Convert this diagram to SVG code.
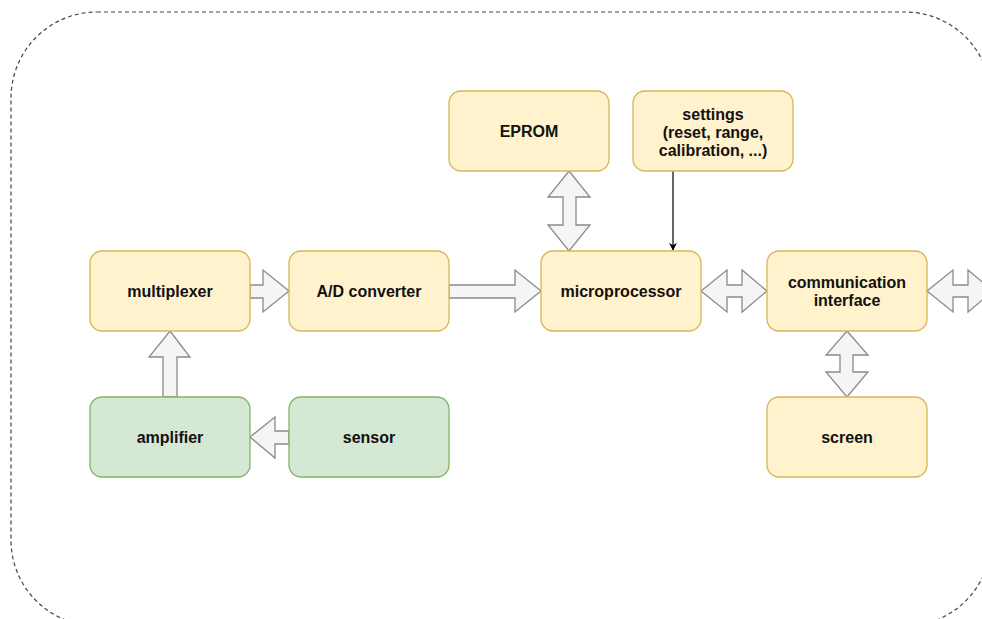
<svg xmlns="http://www.w3.org/2000/svg" width="982" height="619" viewBox="0 0 982 619">
  <style>
    .y { fill: #fff2cc; stroke: #d6b656; stroke-width: 1.3; }
    .g { fill: #d5e8d4; stroke: #82b366; stroke-width: 1.3; }
    .lbl { font-family: "Liberation Sans", Arial, sans-serif; font-weight: bold; font-size: 16px; fill: #111; text-anchor: middle; dominant-baseline: central; }
    .blk { fill: #f5f5f5; stroke: #8a8a8a; stroke-width: 1.3; stroke-linejoin: miter; }
    .frame { fill: none; stroke: #444; stroke-width: 1.2; stroke-dasharray: 4 3; }
  </style>
  <defs>
    <marker id="tip" viewBox="0 0 10 10" refX="9" refY="5" markerWidth="8" markerHeight="8" orient="auto" markerUnits="userSpaceOnUse">
      <path d="M0,0 L10,5 L0,10 L3,5 Z" fill="#000"/>
    </marker>
  </defs>

  <!-- outer dashed boundary -->
  <rect class="frame" x="11" y="12" width="980" height="614" rx="86" ry="86"/>

  <!-- connectors -->
  <g id="connectors">
    <!-- multiplexer -> A/D converter -->
    <path class="blk" d="M250,285 L263,285 L263,270 L289,291 L263,312 L263,298 L250,298 Z"/>
    <!-- A/D converter -> microprocessor -->
    <path class="blk" d="M449,285 L515,285 L515,270 L541,291 L515,312 L515,298 L449,298 Z"/>
    <!-- EPROM <-> microprocessor -->
    <path class="blk" d="M569,171 L590,197 L576,197 L576,225 L590,225 L569,251 L548,225 L563,225 L563,197 L548,197 Z"/>
    <!-- settings -> microprocessor -->
    <line x1="673" y1="171" x2="673" y2="250" stroke="#000" stroke-width="1.2" marker-end="url(#tip)"/>
    <!-- microprocessor <-> communication interface -->
    <path class="blk" d="M701,291 L727,270 L727,285 L742,285 L742,270 L767,291 L742,312 L742,297 L727,297 L727,312 Z"/>
    <!-- communication interface <-> external link -->
    <path class="blk" d="M927,291 L953,270 L953,285 L968,285 L968,270 L993,291 L968,312 L968,297 L953,297 L953,312 Z"/>
    <!-- communication interface <-> screen -->
    <path class="blk" d="M847,331 L868,355 L853,355 L853,372 L868,372 L847,397 L826,372 L840,372 L840,355 L826,355 Z"/>
    <!-- amplifier -> multiplexer -->
    <path class="blk" d="M170,331 L190,357 L177,357 L177,397 L163,397 L163,357 L149,357 Z"/>
    <!-- sensor -> amplifier -->
    <path class="blk" d="M250,437 L275,417 L275,431 L289,431 L289,444 L275,444 L275,458 Z"/>
  </g>

  <!-- nodes -->
  <g id="eprom">
    <rect class="y" x="449" y="91" width="160" height="80" rx="12"/>
    <text class="lbl" x="529" y="131">EPROM</text>
  </g>
  <g id="settings">
    <rect class="y" x="633" y="91" width="160" height="80" rx="12"/>
    <text class="lbl" x="713" y="114">settings</text>
    <text class="lbl" x="713" y="132">(reset, range,</text>
    <text class="lbl" x="713" y="150">calibration, ...)</text>
  </g>
  <g id="multiplexer">
    <rect class="y" x="90" y="251" width="160" height="80" rx="12"/>
    <text class="lbl" x="170" y="291">multiplexer</text>
  </g>
  <g id="ad-converter">
    <rect class="y" x="289" y="251" width="160" height="80" rx="12"/>
    <text class="lbl" x="369" y="291">A/D converter</text>
  </g>
  <g id="microprocessor">
    <rect class="y" x="541" y="251" width="160" height="80" rx="12"/>
    <text class="lbl" x="621" y="291">microprocessor</text>
  </g>
  <g id="communication-interface">
    <rect class="y" x="767" y="251" width="160" height="80" rx="12"/>
    <text class="lbl" x="847" y="282">communication</text>
    <text class="lbl" x="847" y="300">interface</text>
  </g>
  <g id="amplifier">
    <rect class="g" x="90" y="397" width="160" height="80" rx="12"/>
    <text class="lbl" x="170" y="437">amplifier</text>
  </g>
  <g id="sensor">
    <rect class="g" x="289" y="397" width="160" height="80" rx="12"/>
    <text class="lbl" x="369" y="437">sensor</text>
  </g>
  <g id="screen">
    <rect class="y" x="767" y="397" width="160" height="80" rx="12"/>
    <text class="lbl" x="847" y="437">screen</text>
  </g>
</svg>
